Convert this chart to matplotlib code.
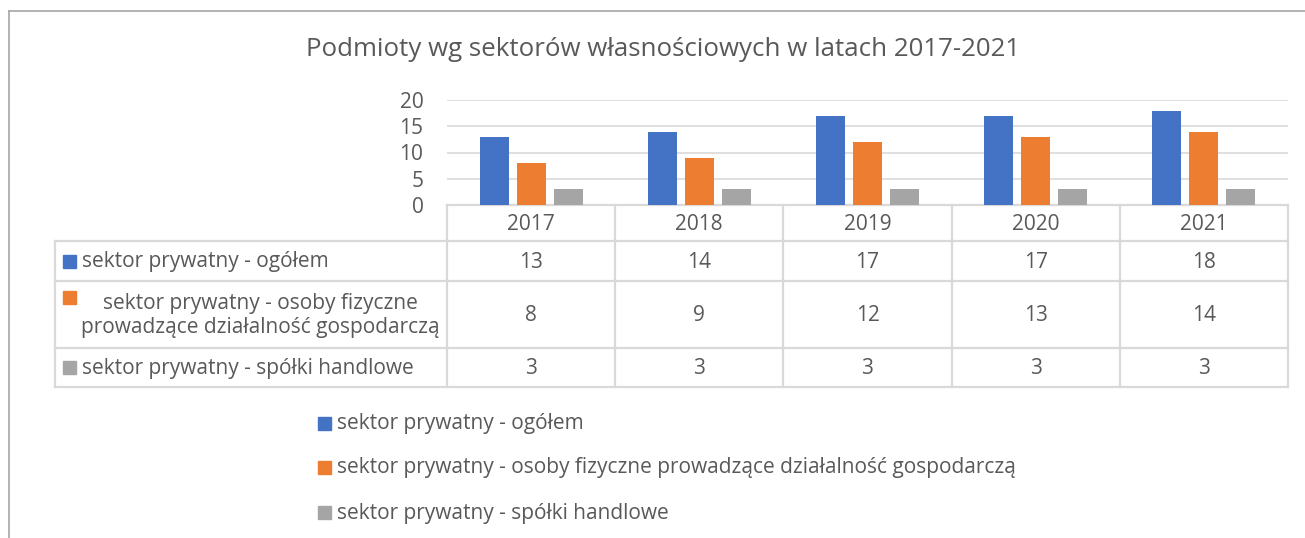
import matplotlib
matplotlib.use("Agg")
import matplotlib.pyplot as plt
import numpy as np

years = ["2017", "2018", "2019", "2020", "2021"]
series_names = [
    "sektor prywatny - ogółem",
    "sektor prywatny - osoby fizyczne prowadzące działalność gospodarczą",
    "sektor prywatny - spółki handlowe",
]
table_labels = [
    "sektor prywatny - ogółem",
    "sektor prywatny - osoby fizyczne\nprowadzące działalność gospodarczą",
    "sektor prywatny - spółki handlowe",
]
ogolem = [13, 14, 17, 17, 18]
osoby_fizyczne = [8, 9, 12, 13, 14]
spolki = [3, 3, 3, 3, 3]
values = [ogolem, osoby_fizyczne, spolki]
colors = ["#4472C4", "#ED7D31", "#A5A5A5"]
title = "Podmioty wg sektorów własnościowych w latach 2017-2021"
yticks = [0, 5, 10, 15, 20]

plt.rcParams['font.family'] = ['Open Sans', 'DejaVu Sans']
TXT = "#595959"
GRID = "#D9D9D9"
FS = 15
W, H = 1305, 538
fig = plt.figure(figsize=(W / 100, H / 100), dpi=100)

# overlay in pixel coords
ov = fig.add_axes([0, 0, 1, 1])
ov.set_xlim(0, W)
ov.set_ylim(H, 0)
ov.axis("off")

# outer border
ov.plot([9, W + 5], [11, 11], color="#A6A6A6", lw=1.2)
ov.plot([9, 9], [11, H + 5], color="#A6A6A6", lw=1.2)

x0, x1 = 447, 1288
y_top, y_bot = 100, 205
ax = fig.add_axes([x0 / W, 1 - y_bot / H, (x1 - x0) / W, (y_bot - y_top) / H])
n = len(years)
x = np.arange(n)
bw = 0.173
step = 0.22
for i, (vals, c) in enumerate(zip(values, colors)):
    ax.bar(x + (i - 1) * step, vals, width=bw, color=c, zorder=3)
ax.set_xlim(-0.5, n - 0.5)
ax.set_ylim(0, 20)
ax.set_yticks(yticks)
ax.set_yticklabels([str(t) for t in yticks], fontsize=FS, color=TXT)
ax.tick_params(axis="y", length=0, pad=17)
ax.set_xticks([])
ax.grid(axis="y", color=GRID, lw=1.2, zorder=0)
for s in ["top", "right", "left"]:
    ax.spines[s].set_visible(False)
ax.spines["bottom"].set_color(GRID)
ax.spines["bottom"].set_linewidth(1.2)
ax.patch.set_alpha(0)

fig.text(663 / W, 1 - 50 / H, title, ha="center", va="center", fontsize=18.6, color=TXT)

# table
col_w = (x1 - x0) / n
lx = 55
row_edges = [205, 241, 281, 348, 387]
lc = "#D9D9D9"
lw = 1.6
ov.plot([x0, x1], [row_edges[0], row_edges[0]], color=lc, lw=lw)
for yy in row_edges[1:]:
    ov.plot([lx, x1], [yy, yy], color=lc, lw=lw)
for k in range(n + 1):
    xx = x0 + k * col_w
    ov.plot([xx, xx], [row_edges[0], row_edges[-1]], color=lc, lw=lw)
ov.plot([lx, lx], [row_edges[1], row_edges[-1]], color=lc, lw=lw)

for k, yr in enumerate(years):
    ov.text(x0 + (k + 0.5) * col_w, (row_edges[0] + row_edges[1]) / 2 + 1, yr,
            ha="center", va="center", fontsize=FS, color=TXT)
for r in range(3):
    yc = (row_edges[r + 1] + row_edges[r + 2]) / 2
    for k in range(n):
        ov.text(x0 + (k + 0.5) * col_w, yc + 1, str(values[r][k]),
                ha="center", va="center", fontsize=FS, color=TXT)
    ky = yc if r != 1 else 297
    ov.add_patch(plt.Rectangle((63, ky - 6.5), 13, 13, color=colors[r]))
    if r == 1:
        ov.text(260, yc + 1, table_labels[r], ha="center", va="center", fontsize=FS,
                color=TXT, linespacing=1.2)
    else:
        ov.text(82, yc + 1, table_labels[r], ha="left", va="center", fontsize=FS, color=TXT)

# legend below
leg_y = [423, 467, 512]
for r in range(3):
    ov.add_patch(plt.Rectangle((318, leg_y[r] - 6.5), 13, 13, color=colors[r]))
    ov.text(337, leg_y[r] + 1, series_names[r], ha="left", va="center", fontsize=FS, color=TXT)

fig.savefig("out.png", dpi=100, facecolor="white")
